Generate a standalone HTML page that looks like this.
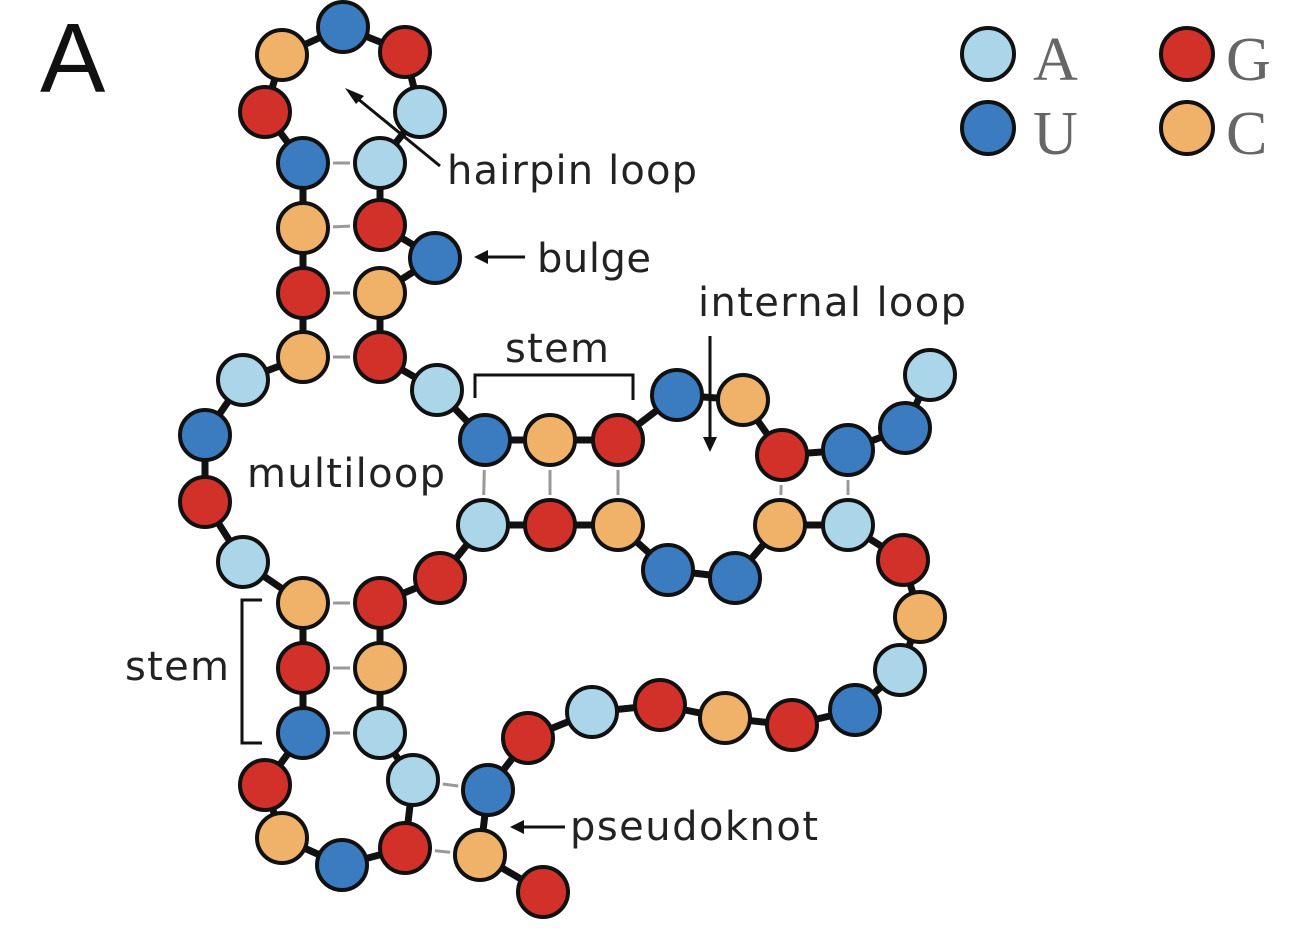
<!DOCTYPE html>
<html><head><meta charset="utf-8"><style>
html,body{margin:0;padding:0;background:#fff;width:1294px;height:928px;overflow:hidden}
svg{display:block}
.lbl{font-family:"DejaVu Sans","Liberation Sans",sans-serif;font-size:40px;fill:#222}
.leg{font-family:"Liberation Serif",serif;font-size:62px;fill:#666}
</style></head><body>
<svg id="fig" width="1294" height="928" viewBox="0 0 1294 928">
<g id="bonds"></g>
<g id="pairs"></g>
<g id="nodes"></g>
<text x="40" y="92" font-family="Liberation Sans, sans-serif" font-size="98" fill="#111">A</text>
<g>
 <circle cx="988" cy="54" r="26" fill="#abd5e8" stroke="#111" stroke-width="4"/>
 <text class="leg" x="1033" y="80">A</text>
 <circle cx="1187" cy="54" r="26" fill="#d13129" stroke="#111" stroke-width="4"/>
 <text class="leg" x="1226" y="80">G</text>
 <circle cx="988" cy="128" r="26" fill="#3b7bbf" stroke="#111" stroke-width="4"/>
 <text class="leg" x="1033" y="154">U</text>
 <circle cx="1187" cy="128" r="26" fill="#f0b169" stroke="#111" stroke-width="4"/>
 <text class="leg" x="1226" y="154">C</text>
</g>
<g stroke="#111" stroke-width="3" fill="none">
 <line x1="440" y1="166" x2="352" y2="94"/>
 <line x1="525" y1="257" x2="482" y2="257"/>
 <line x1="710" y1="336" x2="710" y2="444"/>
 <polyline points="475,398 475,375 633,375 633,400"/>
 <polyline points="262,600 242,600 242,743 262,743"/>
 <line x1="565" y1="827" x2="518" y2="827"/>
</g>
<g fill="#111">
 <polygon points="345,88 364,96 356,104"/>
 <polygon points="474,257 488,250 488,264"/>
 <polygon points="710,452 703,437 717,437"/>
 <polygon points="510,827 524,820 524,834"/>
</g>
<text class="lbl" x="447" y="184" textLength="250">hairpin loop</text>
<text class="lbl" x="537" y="272" textLength="114">bulge</text>
<text class="lbl" x="698" y="316" textLength="268">internal loop</text>
<text class="lbl" x="505" y="362" textLength="104">stem</text>
<text class="lbl" x="247" y="487" textLength="198">multiloop</text>
<text class="lbl" x="125" y="680" textLength="104">stem</text>
<text class="lbl" x="570" y="840" textLength="248">pseudoknot</text>
</svg>
<script>
const bases = ["A","U","U","G","C","U","G","C","U","A","G","C","U","G","A","A","G","U","C","G","U","C","G","C","A","U","G","A","C","G","U","G","C","U","G","A","A","C","G","G","A","G","C","U","U","C","A","G","C","A","U","G","C","G","A","G","U","C","G"];
const xs = [930,905,848,782,743,677,618,550,485,437,380,380,435,380,380,420,405,343,282,265,303,303,303,303,243,205,205,243,303,303,303,265,282,342,405,413,380,380,380,440,483,550,618,668,735,780,848,903,920,900,855,792,725,660,592,528,488,480,543];
const ys = [375,428,450,455,400,395,440,440,440,390,357,293,258,225,163,112,52,27,55,112,163,228,293,357,380,435,502,562,603,668,733,785,838,865,848,780,733,668,603,578,525,525,525,570,578,525,525,560,617,670,710,725,718,705,712,738,790,855,892];
const pairI = [14,13,11,10,8,7,6,3,2,30,29,28,35,34];
const pairJ = [20,21,22,23,40,41,42,45,46,36,37,38,56,57];
const colors = {A:"#abd5e8",U:"#3b7bbf",G:"#d13129",C:"#f0b169"};
const NS="http://www.w3.org/2000/svg";
const bonds=document.getElementById('bonds'), pairs=document.getElementById('pairs'), nodes=document.getElementById('nodes');
for(let i=0;i<xs.length-1;i++){
  const l=document.createElementNS(NS,'line');
  
  
  l.setAttribute('x1',xs[i]);l.setAttribute('y1',ys[i]);l.setAttribute('x2',xs[i+1]);l.setAttribute('y2',ys[i+1]);
  l.setAttribute('stroke','#111');l.setAttribute('stroke-width','7');
  bonds.appendChild(l);
}
for(let k=0;k<pairI.length;k++){
  const a=pairI[k],b=pairJ[k];
  const mx=(xs[a]+xs[b])/2,my=(ys[a]+ys[b])/2;
  const dx=xs[b]-xs[a],dy=ys[b]-ys[a],d=Math.hypot(dx,dy);
  const h=Math.max(4,(d-60)/2);
  const l=document.createElementNS(NS,'line');
  
  
  l.setAttribute('x1',mx-dx/d*h);l.setAttribute('y1',my-dy/d*h);l.setAttribute('x2',mx+dx/d*h);l.setAttribute('y2',my+dy/d*h);
  l.setAttribute('stroke','#999');l.setAttribute('stroke-width','3');
  pairs.appendChild(l);
}
for(let i=0;i<xs.length;i++){
  const c=document.createElementNS(NS,'circle');
  
  
  c.setAttribute('cx',xs[i]);c.setAttribute('cy',ys[i]);c.setAttribute('r',25);
  c.setAttribute('fill',colors[bases[i]]);c.setAttribute('stroke','#111');c.setAttribute('stroke-width','4');
  nodes.appendChild(c);
}
</script>
</body></html>
